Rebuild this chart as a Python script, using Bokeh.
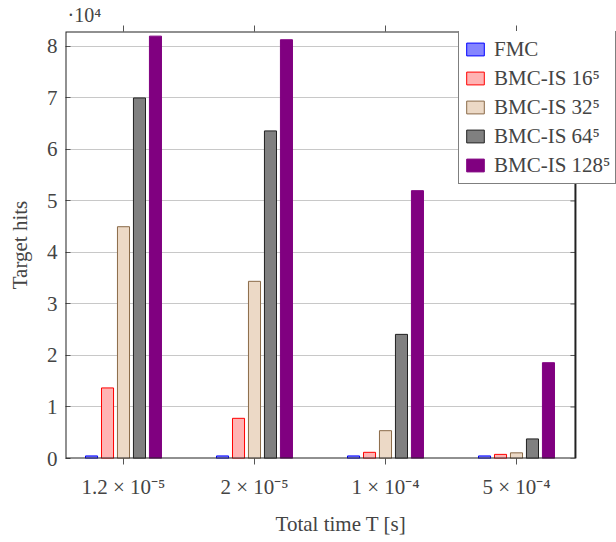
from bokeh.plotting import figure
from bokeh.models import (Range1d, FixedTicker, LinearAxis, Legend, LegendItem,
                          BoxAnnotation, ColumnDataSource)
from bokeh.embed import file_html
from bokeh.resources import INLINE

# ---- data ----
categories = ["1.2 × 10⁻⁵", "2 × 10⁻⁵", "1 × 10⁻⁴", "5 × 10⁻⁴"]
series_names = ["FMC", "BMC-IS 16⁵", "BMC-IS 32⁵", "BMC-IS 64⁵", "BMC-IS 128⁵"]
fmc = [500, 500, 500, 500]
bmc16 = [13700, 7800, 1200, 800]
bmc32 = [45000, 34400, 5400, 1100]
bmc64 = [70000, 63600, 24100, 3800]
bmc128 = [82000, 81300, 52000, 18600]
series_values = [fmc, bmc16, bmc32, bmc64, bmc128]
y_ticks = [0, 10000, 20000, 30000, 40000, 50000, 60000, 70000, 80000]
y_tick_labels = ["0", "1", "2", "3", "4", "5", "6", "7", "8"]

fills = ["#8585ff", "#ffb3b3", "#ecd9c6", "#808080", "#800080"]
lines = ["#0000ff", "#ff0000", "#8a6a48", "#202020", "#800080"]

FONT = "Liberation Serif"
FS = "21px"

X0, XAXIS_END, XFRAME_END = -0.4427, 3.45, 3.7634
Y_END = 82900

p = figure(width=616, height=542, output_backend="svg", toolbar_location=None,
           x_range=Range1d(X0, XFRAME_END), y_range=Range1d(0, Y_END),
           min_border_left=65, min_border_right=0, min_border_top=31,
           min_border_bottom=84)
p.xaxis.visible = False
p.yaxis.visible = False
p.outline_line_color = None
p.xgrid.visible = False
p.ygrid.ticker = FixedTicker(ticks=y_ticks)
p.ygrid.grid_line_color = "#c8c8c8"

# multiplier shown as title at top-left
p.title.text = "·10⁴"
p.title.text_font = FONT
p.title.text_font_size = "20px"
p.title.text_font_style = "normal"
p.title.align = "left"
p.title.offset = 2
p.title.standoff = 0

xpos = list(range(len(categories)))
step = 0.122
width = 0.092
legend_items = []
for j, (name, vals) in enumerate(zip(series_names, series_values)):
    src = ColumnDataSource(dict(x=[i + (j - 2) * step for i in xpos], top=vals))
    r = p.vbar(x="x", top="top", width=width, bottom=0, source=src,
               fill_color=fills[j], line_color=lines[j], line_width=1)
    legend_items.append(LegendItem(label=name, renderers=[r]))

# blank out grid beyond the axis box, then draw the axis box
p.add_layout(BoxAnnotation(left=XAXIS_END, fill_color="white", fill_alpha=1,
                           line_color=None))
p.add_layout(BoxAnnotation(left=X0, right=XAXIS_END, bottom=0, top=Y_END,
                           fill_alpha=0, line_color="#222222", line_alpha=1,
                           line_width=2))

# right-side inward ticks
n = len(y_ticks)
p.segment(x0=[XAXIS_END] * n, x1=[XAXIS_END - 5 / 131] * n, y0=y_ticks, y1=y_ticks,
          line_color="#555555", line_width=1)

# bottom axis
xb = LinearAxis(ticker=FixedTicker(ticks=xpos),
                major_label_overrides={i: c for i, c in enumerate(categories)})
xb.axis_label = "Total time T [s]"
xb.axis_label_text_font = FONT
xb.axis_label_text_font_style = "normal"
xb.axis_label_text_font_size = FS
xb.axis_label_standoff = 10
xb.major_label_text_font = FONT
xb.major_label_text_font_size = FS
xb.major_label_standoff = 10
xb.major_tick_in = 0
xb.major_tick_out = 6
xb.minor_tick_line_color = None
xb.axis_line_color = None
xb.major_tick_line_color = "#555555"
p.add_layout(xb, "below")

# top axis (ticks only)
xt = LinearAxis(ticker=FixedTicker(ticks=xpos),
                major_label_overrides={i: "" for i in xpos})
xt.major_tick_in = 0
xt.major_tick_out = 6
xt.minor_tick_line_color = None
xt.axis_line_color = None
xt.major_tick_line_color = "#555555"
xt.major_label_standoff = 0
p.add_layout(xt, "above")

# left axis
yl = LinearAxis(ticker=FixedTicker(ticks=y_ticks),
                major_label_overrides={t: l for t, l in zip(y_ticks, y_tick_labels)})
yl.axis_label = "Target hits"
yl.axis_label_text_font = FONT
yl.axis_label_text_font_style = "normal"
yl.axis_label_text_font_size = FS
yl.axis_label_standoff = 12
yl.major_label_text_font = FONT
yl.major_label_text_font_size = FS
yl.major_label_standoff = 8
yl.major_tick_in = 5
yl.major_tick_out = 0
yl.minor_tick_line_color = None
yl.axis_line_color = None
yl.major_tick_line_color = "#555555"
p.add_layout(yl, "left")

legend = Legend(items=legend_items, location=(393, 274))
legend.label_text_font = FONT
legend.label_text_font_size = FS
legend.glyph_width = 22
legend.glyph_height = 16
legend.label_height = 26
legend.label_standoff = 8
legend.spacing = 3
legend.padding = 5
legend.margin = 0
legend.border_line_color = "black"
legend.border_line_width = 1
legend.background_fill_alpha = 1
p.add_layout(legend, "center")

open("out.html", "w").write(file_html(p, INLINE))
